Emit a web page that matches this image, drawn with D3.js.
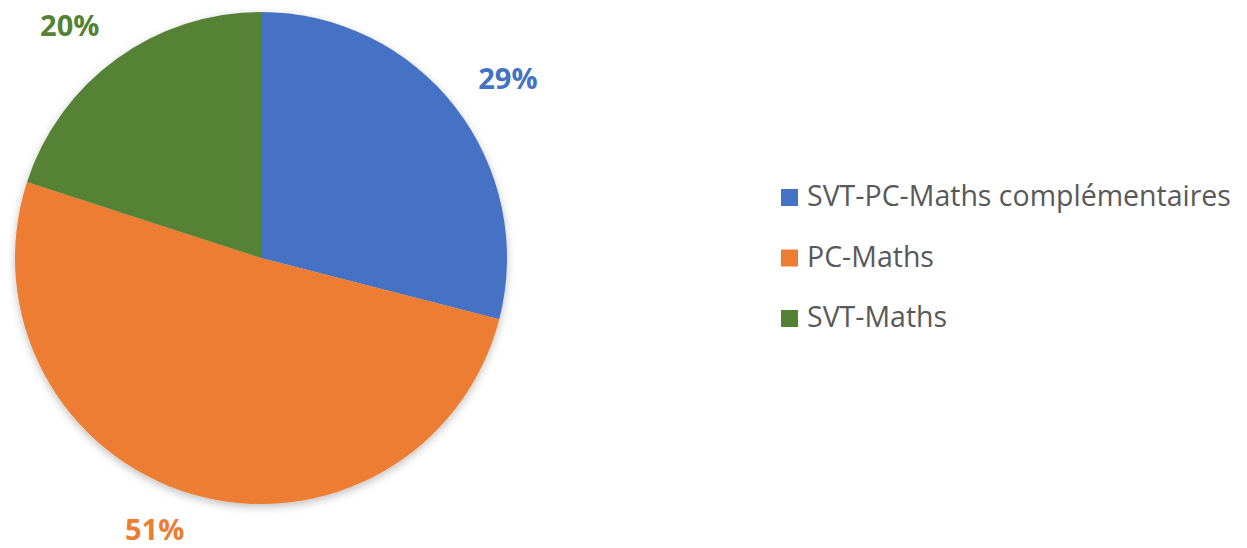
<!DOCTYPE html>
<html lang="fr">
<head>
<meta charset="utf-8">
<title>Pie</title>
<script src="https://d3js.org/d3.v7.min.js"></script>
<style>
  body { margin: 0; background: #fff; }
  svg { width: 1247px; height: 548px; display: block; }
  text { font-family: "Open Sans", "Noto Sans", sans-serif; }
</style>
</head>
<body>
<svg></svg>
<script>
// data
const categories = ["SVT-PC-Maths complémentaires", "PC-Maths", "SVT-Maths"];
const values = [29, 51, 20];
const colors = ["#4472C4", "#ED7D31", "#548235"];

const svg = d3.select("svg");
const cx = 261, cy = 258, radius = 246;
const labelR = 275;   // nearest corner of each label box sits on this radius
const capH = 18;

const color = d3.scaleOrdinal().domain(categories).range(colors);

// soft shadow under the pie
const defs = svg.append("defs");
const f = defs.append("filter").attr("id", "shadow")
  .attr("x", "-10%").attr("y", "-10%").attr("width", "120%").attr("height", "125%");
f.append("feDropShadow").attr("dx", 0).attr("dy", 3).attr("stdDeviation", 4)
  .attr("flood-color", "#000").attr("flood-opacity", 0.25);

const pie = d3.pie().value((d, i) => values[i]).sort(null);
const arcs = pie(categories);
const arc = d3.arc().innerRadius(0).outerRadius(radius);

const g = svg.append("g").attr("transform", `translate(${cx},${cy})`);

g.append("g").attr("filter", "url(#shadow)")
  .selectAll("path")
  .data(arcs)
  .enter()
  .append("path")
  .attr("d", arc)
  .attr("fill", d => color(d.data));

// labels outside, box corner on labelR along the mid angle
const mid = d => (d.startAngle + d.endAngle) / 2;
g.selectAll("text.lbl")
  .data(arcs)
  .enter()
  .append("text")
  .attr("class", "lbl")
  .attr("x", d => labelR * Math.sin(mid(d)))
  .attr("y", d => {
    const y = -labelR * Math.cos(mid(d));
    return Math.cos(mid(d)) > 0 ? y : y + capH;
  })
  .attr("text-anchor", d => Math.sin(mid(d)) > 0 ? "start" : "end")
  .attr("font-size", 29)
  .attr("font-weight", "bold")
  .attr("fill", d => color(d.data))
  .text(d => d.value + "%");

// legend
const legend = svg.append("g").attr("transform", "translate(781,0)");
const ly = d3.scalePoint().domain(categories).range([197, 318]);

legend.selectAll("rect")
  .data(categories)
  .enter()
  .append("rect")
  .attr("x", 0)
  .attr("y", d => ly(d) - 8)
  .attr("width", 17)
  .attr("height", 17)
  .attr("fill", d => color(d));

legend.selectAll("text")
  .data(categories)
  .enter()
  .append("text")
  .attr("x", 26)
  .attr("y", d => ly(d) + 9)
  .attr("font-size", 28.5)
  .attr("fill", "#595959")
  .text(d => d);
</script>
</body>
</html>
